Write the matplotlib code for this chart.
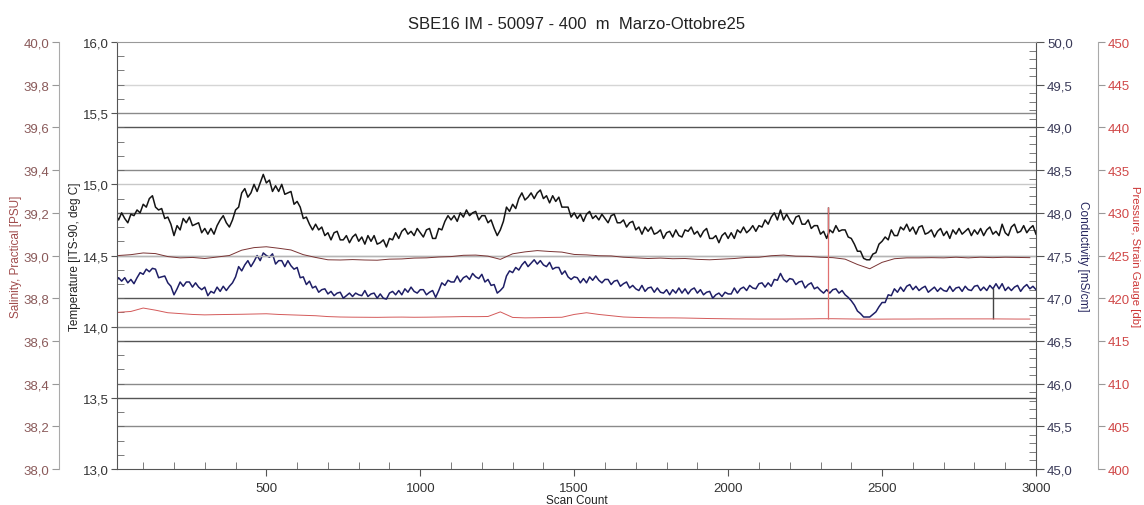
import numpy as np
import matplotlib.pyplot as plt
from matplotlib.ticker import MultipleLocator, FuncFormatter

plt.rcParams['font.family'] = ['Liberation Sans', 'DejaVu Sans']

# fast channels, one value every 10 scans
scan = np.arange(10, 3001, 10)
temperature = [
    14.79, 14.75, 14.80, 14.76, 14.73, 14.79, 14.78, 14.82, 14.80, 14.86,
    14.84, 14.90, 14.92, 14.84, 14.82, 14.83, 14.76, 14.77, 14.72, 14.64,
    14.71, 14.68, 14.76, 14.73, 14.77, 14.71, 14.72, 14.73, 14.66, 14.69,
    14.65, 14.69, 14.65, 14.71, 14.75, 14.78, 14.73, 14.70, 14.75, 14.82,
    14.84, 14.94, 14.97, 14.91, 14.94, 15.00, 14.95, 15.01, 15.07, 15.01,
    15.03, 14.95, 14.99, 14.95, 15.00, 14.93, 14.94, 14.95, 14.86, 14.88,
    14.84, 14.76, 14.77, 14.72, 14.68, 14.72, 14.68, 14.70, 14.64, 14.66,
    14.61, 14.66, 14.67, 14.61, 14.61, 14.64, 14.59, 14.63, 14.65, 14.60,
    14.63, 14.58, 14.64, 14.60, 14.64, 14.58, 14.59, 14.61, 14.56, 14.62,
    14.61, 14.66, 14.62, 14.67, 14.69, 14.65, 14.67, 14.64, 14.69, 14.66,
    14.63, 14.68, 14.69, 14.62, 14.62, 14.69, 14.68, 14.74, 14.78, 14.75,
    14.78, 14.74, 14.80, 14.77, 14.82, 14.78, 14.80, 14.81, 14.75, 14.78,
    14.78, 14.73, 14.75, 14.69, 14.64, 14.68, 14.74, 14.84, 14.81, 14.86,
    14.83, 14.90, 14.94, 14.89, 14.91, 14.94, 14.90, 14.94, 14.96, 14.90,
    14.92, 14.87, 14.92, 14.88, 14.91, 14.84, 14.84, 14.84, 14.77, 14.80,
    14.76, 14.79, 14.74, 14.79, 14.81, 14.76, 14.78, 14.75, 14.79, 14.76,
    14.73, 14.78, 14.79, 14.73, 14.73, 14.75, 14.70, 14.73, 14.74, 14.68,
    14.70, 14.65, 14.70, 14.67, 14.70, 14.65, 14.66, 14.68, 14.62, 14.66,
    14.67, 14.63, 14.68, 14.64, 14.63, 14.68, 14.67, 14.70, 14.65, 14.67,
    14.63, 14.67, 14.69, 14.62, 14.62, 14.64, 14.59, 14.64, 14.66, 14.62,
    14.66, 14.62, 14.68, 14.66, 14.70, 14.66, 14.68, 14.71, 14.67, 14.71,
    14.70, 14.75, 14.72, 14.77, 14.80, 14.75, 14.82, 14.75, 14.79, 14.75,
    14.72, 14.77, 14.78, 14.72, 14.72, 14.75, 14.69, 14.71, 14.71, 14.65,
    14.67, 14.62, 14.68, 14.66, 14.71, 14.67, 14.68, 14.68, 14.63, 14.62,
    14.58, 14.53, 14.53, 14.48, 14.47, 14.47, 14.51, 14.52, 14.58, 14.60,
    14.63, 14.61, 14.68, 14.64, 14.64, 14.70, 14.68, 14.72, 14.67, 14.70,
    14.65, 14.70, 14.71, 14.65, 14.66, 14.68, 14.63, 14.67, 14.69, 14.64,
    14.67, 14.62, 14.68, 14.65, 14.69, 14.65, 14.67, 14.69, 14.64, 14.68,
    14.65, 14.69, 14.64, 14.68, 14.70, 14.65, 14.67, 14.64, 14.72, 14.66,
    14.64, 14.70, 14.72, 14.66, 14.67, 14.71, 14.66, 14.69, 14.71, 14.65,
]
conductivity = [
    47.18, 47.24, 47.20, 47.24, 47.18, 47.22, 47.17, 47.24, 47.30, 47.28,
    47.34, 47.31, 47.35, 47.34, 47.24, 47.25, 47.26, 47.18, 47.14, 47.04,
    47.11, 47.19, 47.14, 47.19, 47.19, 47.13, 47.18, 47.13, 47.10, 47.13,
    47.03, 47.08, 47.06, 47.13, 47.08, 47.14, 47.09, 47.14, 47.18, 47.25,
    47.37, 47.32, 47.39, 47.44, 47.37, 47.43, 47.50, 47.44, 47.53, 47.50,
    47.48, 47.52, 47.40, 47.44, 47.44, 47.37, 47.44, 47.38, 47.34, 47.36,
    47.24, 47.25, 47.16, 47.20, 47.12, 47.14, 47.07, 47.10, 47.11, 47.05,
    47.08, 47.03, 47.06, 47.07, 47.00, 47.03, 47.06, 47.02, 47.06, 47.04,
    47.03, 47.09, 47.02, 47.05, 47.06, 47.00, 47.05, 47.00, 46.99, 47.06,
    47.08, 47.04, 47.09, 47.04, 47.11, 47.07, 47.13, 47.08, 47.06, 47.10,
    47.10, 47.04, 47.07, 47.09, 47.01, 47.09, 47.18, 47.15, 47.21, 47.19,
    47.19, 47.26, 47.19, 47.24, 47.26, 47.22, 47.29, 47.25, 47.23, 47.28,
    47.19, 47.22, 47.15, 47.16, 47.06, 47.09, 47.13, 47.26, 47.32, 47.30,
    47.36, 47.33, 47.39, 47.43, 47.37, 47.41, 47.45, 47.40, 47.44, 47.39,
    47.37, 47.42, 47.34, 47.36, 47.36, 47.28, 47.32, 47.25, 47.22, 47.25,
    47.24, 47.18, 47.23, 47.18, 47.25, 47.21, 47.26, 47.21, 47.18, 47.22,
    47.22, 47.16, 47.20, 47.21, 47.14, 47.17, 47.19, 47.12, 47.15, 47.11,
    47.09, 47.15, 47.08, 47.12, 47.13, 47.07, 47.12, 47.07, 47.06, 47.10,
    47.04, 47.10, 47.06, 47.12, 47.06, 47.11, 47.05, 47.10, 47.12, 47.06,
    47.10, 47.04, 47.07, 47.08, 47.00, 47.04, 47.06, 47.02, 47.07, 47.05,
    47.05, 47.12, 47.06, 47.11, 47.13, 47.09, 47.15, 47.12, 47.11, 47.17,
    47.18, 47.13, 47.18, 47.14, 47.22, 47.21, 47.29, 47.22, 47.19, 47.23,
    47.22, 47.16, 47.19, 47.20, 47.12, 47.16, 47.18, 47.11, 47.13, 47.09,
    47.06, 47.10, 47.06, 47.10, 47.11, 47.06, 47.09, 47.04, 47.01, 46.97,
    46.92, 46.85, 46.82, 46.78, 46.78, 46.78, 46.81, 46.84, 46.90, 46.95,
    46.95, 47.04, 47.03, 47.11, 47.07, 47.13, 47.08, 47.14, 47.16, 47.10,
    47.14, 47.09, 47.12, 47.14, 47.07, 47.10, 47.13, 47.08, 47.12, 47.09,
    47.08, 47.14, 47.08, 47.12, 47.13, 47.08, 47.14, 47.10, 47.09, 47.14,
    47.15, 47.09, 47.13, 47.09, 47.15, 47.11, 47.17, 47.11, 47.17, 47.09,
    47.13, 47.09, 47.13, 47.15, 47.08, 47.13, 47.16, 47.11, 47.14, 47.10,
]

# slow channels, one value every 40 scans
scan_slow = np.arange(20, 3001, 40)
salinity = [
    39.000, 39.004, 39.012, 39.009, 38.995, 38.989, 38.991, 38.986, 38.993, 39.000,
    39.025, 39.037, 39.041, 39.034, 39.026, 39.004, 38.991, 38.980, 38.979, 38.981,
    38.979, 38.978, 38.983, 38.984, 38.988, 38.989, 38.993, 38.995, 39.001, 39.002,
    38.997, 38.982, 39.008, 39.017, 39.023, 39.019, 39.016, 39.005, 39.003, 38.999,
    38.998, 38.992, 38.989, 38.986, 38.988, 38.985, 38.986, 38.982, 38.980, 38.983,
    38.986, 38.991, 38.992, 38.999, 39.002, 38.997, 38.996, 38.992, 38.990, 38.983,
    38.958, 38.938, 38.968, 38.985, 38.989, 38.989, 38.990, 38.989, 38.992, 38.989,
    38.992, 38.990, 38.992, 38.991, 38.990,
]
pressure = [
    418.35, 418.45, 418.85, 418.60, 418.30, 418.20, 418.10, 418.05, 418.08, 418.10,
    418.12, 418.15, 418.18, 418.10, 418.05, 418.00, 417.95, 417.85, 417.80, 417.78,
    417.77, 417.76, 417.78, 417.79, 417.77, 417.78, 417.80, 417.82, 417.85, 417.84,
    417.86, 418.40, 417.75, 417.70, 417.72, 417.75, 417.77, 418.10, 418.30, 418.10,
    417.95, 417.80, 417.75, 417.72, 417.70, 417.70, 417.68, 417.65, 417.62, 417.60,
    417.58, 417.57, 417.56, 417.56, 417.56, 417.57, 417.58, 417.60, 417.60, 417.58,
    417.56, 417.55, 417.55, 417.56, 417.56, 417.57, 417.57, 417.58, 417.58, 417.58,
    417.58, 417.58, 417.57, 417.56, 417.56,
]

# single-scan glitches: scan, normal value, glitch value
temp_spike = [2325, 14.65, 14.84]
pres_spike = [2325, 417.60, 430.70]
cond_spike = [2860, 47.12, 46.76]

c_temp = '#141414'
c_cond = '#1e1e66'
c_sal = '#7a3434'
c_pres = '#d45a5a'


def comma(v, pos):
    return f'{v:.1f}'.replace('.', ',')


fig = plt.figure(figsize=(11.44, 5.06), dpi=100)
ax = fig.add_axes([0.1023, 0.0711, 0.8033, 0.8439])
ax_c = ax.twinx()
ax_s = ax.twinx()
ax_p = ax.twinx()

# conductivity axis goes underneath so its grid stays behind the traces
ax_c.set_zorder(-1)
ax.patch.set_visible(False)

ax.set_xlim(15, 3000)
ax.set_ylim(13, 16)
ax_c.set_ylim(45, 50)
ax_s.set_ylim(38, 40)
ax_p.set_ylim(400, 450)

# traces
ax_c.plot(scan, conductivity, color=c_cond, lw=1.1)
ax_c.vlines(cond_spike[0], cond_spike[1], cond_spike[2], color='#444444', lw=1)
ax.plot(scan, temperature, color=c_temp, lw=1.1)
ax.vlines(temp_spike[0], temp_spike[1], temp_spike[2], color=c_temp, lw=1)
ax_s.plot(scan_slow, salinity, color=c_sal, lw=0.7)
ax_p.plot(scan_slow, pressure, color=c_pres, lw=0.7)
ax_p.vlines(pres_spike[0], pres_spike[1], pres_spike[2], color='#e07070', lw=0.9)

# x axis
ax.xaxis.set_major_locator(MultipleLocator(500))
ax.xaxis.set_minor_locator(MultipleLocator(100))
ax.tick_params(axis='x', which='major', direction='out', length=5,
               labelsize=9.5, pad=4, color='#555555', labelcolor='#333333')
ax.tick_params(axis='x', which='minor', direction='in', length=5, color='#666666')
ax.set_xlabel('Scan Count', fontsize=8.5, labelpad=0, color='#222222')

# temperature (left, inner)
ax.yaxis.set_major_locator(MultipleLocator(0.5))
ax.yaxis.set_minor_locator(MultipleLocator(0.1))
ax.yaxis.set_major_formatter(FuncFormatter(comma))
ax.tick_params(axis='y', which='major', direction='out', length=4,
               labelsize=9.5, pad=2, color='#555555', labelcolor='#333333')
ax.tick_params(axis='y', which='minor', direction='in', length=5, color='#666666')
ax.set_ylabel('Temperature [ITS-90, deg C]', fontsize=8.5, labelpad=1, color='#222222')
ax.grid(axis='y', which='major', lw=1)
temp_grid = {13.5: '#555555', 14.0: '#8a8a8a', 14.5: '#b5b5b5',
             15.0: '#c8c8c8', 15.5: '#8a8a8a'}
for v, gl in zip(ax.get_yticks(), ax.get_ygridlines()):
    gl.set_color(temp_grid.get(round(v, 1), 'none'))

# conductivity (right, inner)
ax_c.yaxis.set_major_locator(MultipleLocator(0.5))
ax_c.yaxis.set_minor_locator(MultipleLocator(0.1))
ax_c.yaxis.set_major_formatter(FuncFormatter(comma))
ax_c.tick_params(axis='y', which='major', direction='out', length=6,
                 labelsize=9.5, pad=2, color='#555555', labelcolor='#3a3a58')
ax_c.tick_params(axis='y', which='minor', direction='in', length=5, color='#666666')
ax_c.set_ylabel('Conductivity [mS/cm]', rotation=270, va='bottom',
                fontsize=8.5, labelpad=3, color='#26265e')
ax_c.grid(axis='y', which='major', lw=1)
cond_grid = {45.5: '#8a8a8a', 46.0: '#8a8a8a', 46.5: '#555555', 47.0: '#555555',
             47.5: '#b5b5b5', 48.0: '#555555', 48.5: '#8a8a8a', 49.0: '#555555',
             49.5: '#d5d5d5'}
for v, gl in zip(ax_c.get_yticks(), ax_c.get_ygridlines()):
    gl.set_color(cond_grid.get(round(v, 1), 'none'))

# salinity (left, outer)
ax_s.yaxis.set_ticks_position('left')
ax_s.yaxis.set_label_position('left')
ax_s.spines['left'].set_position(('axes', -0.0631))
ax_s.spines['left'].set_visible(True)
ax_s.yaxis.set_major_locator(MultipleLocator(0.2))
ax_s.yaxis.set_major_formatter(FuncFormatter(comma))
ax_s.tick_params(axis='y', direction='out', length=5, labelsize=9.5, pad=2,
                 color='#999999', labelcolor='#8a5a5a')
ax_s.set_ylabel('Salinity, Practical [PSU]', fontsize=8.5, labelpad=1, color='#a04c4c')

# pressure (right, outer)
ax_p.spines['right'].set_position(('axes', 1.0675))
ax_p.yaxis.set_major_locator(MultipleLocator(5))
ax_p.yaxis.set_major_formatter(FuncFormatter(lambda v, pos: f'{v:.0f}'))
ax_p.tick_params(axis='y', direction='out', length=5, labelsize=9.5, pad=2,
                 color='#999999', labelcolor='#d04848')
ax_p.set_ylabel('Pressure, Strain Gauge [db]', rotation=270, va='bottom',
                fontsize=8.2, labelpad=0, color='#cc3838')

# spines
for a in (ax_c, ax_s, ax_p):
    a.spines['top'].set_visible(False)
    a.spines['bottom'].set_visible(False)
ax_c.spines['left'].set_visible(False)
ax_p.spines['left'].set_visible(False)
ax_s.spines['right'].set_visible(False)
ax.spines['right'].set_visible(False)
for side in ('left', 'bottom'):
    ax.spines[side].set_color('#555555')
ax.spines['top'].set_color('#999999')
ax_c.spines['right'].set_color('#555555')
ax_s.spines['left'].set_color('#aaaaaa')
ax_p.spines['right'].set_color('#aaaaaa')

ax.set_title('SBE16 IM - 50097 - 400  m  Marzo-Ottobre25', fontsize=12,
             pad=10, color='#222222')

fig.savefig('out.png', dpi=100, facecolor='white')
